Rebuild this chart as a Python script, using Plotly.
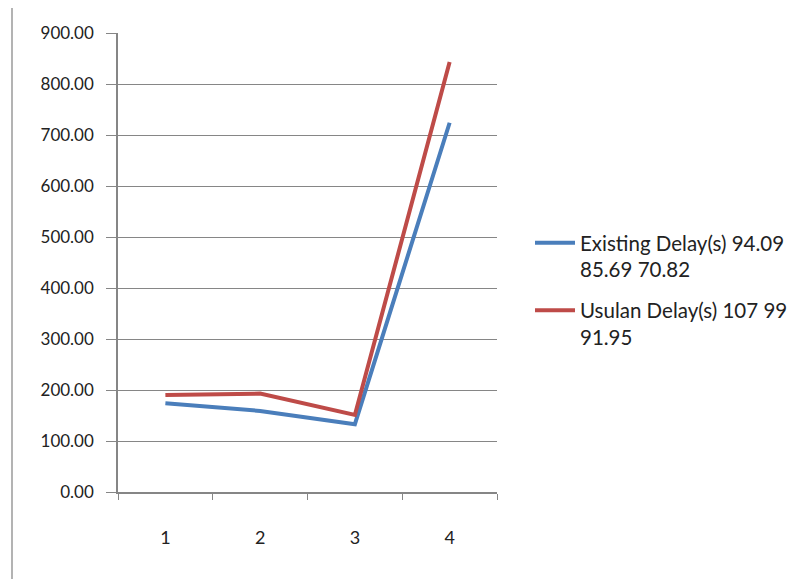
import plotly.graph_objects as go

categories = ["1", "2", "3", "4"]
existing = [174, 159, 133, 724]
usulan = [190, 193, 151, 843]
series_names = ["Existing Delay(s) 94.09<br>85.69 70.82", "Usulan Delay(s) 107 99<br>91.95"]
y_ticks = [0, 100, 200, 300, 400, 500, 600, 700, 800, 900]

W, H = 797, 579
L, R, T, B = 118, 300, 33, 87
pw = W - L - R
ph = H - T - B

fig = go.Figure()
fig.add_trace(go.Scatter(x=categories, y=existing, mode="lines", name=series_names[0],
                         legendgroup="a", line=dict(color="#4A7EBB", width=4)))
fig.add_trace(go.Scatter(x=categories, y=usulan, mode="lines", name=series_names[1],
                         legendgroup="b", line=dict(color="#BE4B48", width=4)))

fig.update_layout(
    width=W, height=H,
    margin=dict(l=L, r=R, t=T, b=B),
    paper_bgcolor="white", plot_bgcolor="white",
    font=dict(family="Lato, 'DejaVu Sans', sans-serif", size=17, color="#222222"),
    showlegend=True,
    legend=dict(xref="container", yref="container", x=530 / W, y=1 - 223 / H,
                xanchor="left", yanchor="top",
                valign="top", font=dict(size=20.5), tracegroupgap=11, itemwidth=40),
    xaxis=dict(type="category", range=[-0.5, 3.5], showline=True, linecolor="#868686", linewidth=1.5,
               ticks="outside", ticklen=6, tickcolor="#868686", tickson="boundaries",
               showgrid=False, ticklabelstandoff=29, zeroline=False, tickfont=dict(size=18)),
    yaxis=dict(range=[0, 900], tickvals=y_ticks, ticktext=[f"{v:.2f}" for v in y_ticks],
               showline=True, linecolor="#868686", linewidth=1.5,
               ticks="outside", ticklen=10, tickcolor="#868686",
               showgrid=True, gridcolor="#868686", gridwidth=1, zeroline=False,
               ticklabelstandoff=9),
)

fig.add_shape(type="line", xref="paper", yref="paper",
              x0=(12 - L) / pw, x1=(12 - L) / pw,
              y0=(T + ph - H) / ph, y1=(T + ph - 8) / ph,
              line=dict(color="#9a9a9a", width=1.5))

fig.write_html("out.html")
